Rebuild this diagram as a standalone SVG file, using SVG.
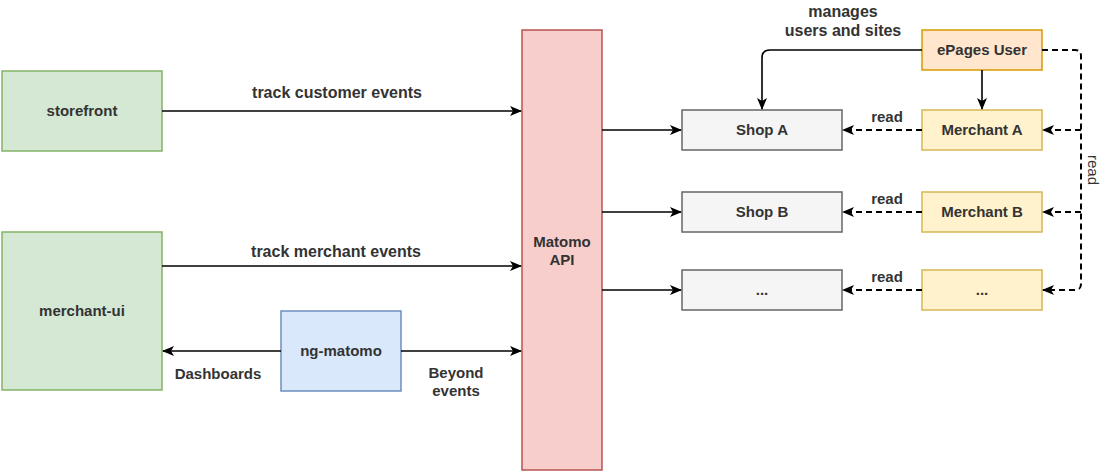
<svg xmlns="http://www.w3.org/2000/svg" width="1107" height="472" viewBox="0 0 1107 472">
<defs>
<style>
text{font-family:"Liberation Sans",Arial,Helvetica,sans-serif;font-weight:bold;font-size:15px;fill:#333333;text-anchor:middle}
.big{font-size:16px}
.thin{font-weight:normal}
.e{fill:none;stroke:#000;stroke-width:1.6}
.d{stroke-dasharray:6 4;stroke-width:2}
.n{stroke-width:1.5}
</style>
<marker id="ah" viewBox="0 0 12 10" refX="11" refY="5" markerWidth="12" markerHeight="10" markerUnits="userSpaceOnUse" orient="auto">
<path d="M0,0 L12,5 L0,10 L3,5 z" fill="#000"/>
</marker>
</defs>
<rect width="1107" height="472" fill="#fff"/>
<g id="storefront"><rect class="n" x="2" y="71" width="160" height="80" fill="#d5e8d4" stroke="#82b366"/><text x="82" y="116">storefront</text></g>
<g id="merchant-ui"><rect class="n" x="2" y="232" width="160" height="158" fill="#d5e8d4" stroke="#82b366"/><text x="82" y="316">merchant-ui</text></g>
<g id="ng-matomo"><rect class="n" x="281" y="311" width="120" height="80" fill="#dae8fc" stroke="#6c8ebf"/><text x="341" y="356">ng-matomo</text></g>
<g id="matomo-api"><rect class="n" x="522" y="30" width="80" height="440" fill="#f8cecc" stroke="#b85450"/><text x="562" y="247">Matomo</text><text x="562" y="265">API</text></g>
<g id="shop-a"><rect class="n" x="682" y="110" width="160" height="40" fill="#f5f5f5" stroke="#666666"/><text x="762" y="135">Shop A</text></g>
<g id="shop-b"><rect class="n" x="682" y="192" width="160" height="40" fill="#f5f5f5" stroke="#666666"/><text x="762" y="217">Shop B</text></g>
<g id="shop-n"><rect class="n" x="682" y="270" width="160" height="40" fill="#f5f5f5" stroke="#666666"/><text x="762" y="295">...</text></g>
<g id="epages-user"><rect class="n" x="922" y="30" width="120" height="40" fill="#ffe6cc" stroke="#d79b00"/><text x="982" y="55">ePages User</text></g>
<g id="merchant-a"><rect class="n" x="922" y="110" width="120" height="40" fill="#fff2cc" stroke="#d6b656"/><text x="982" y="135">Merchant A</text></g>
<g id="merchant-b"><rect class="n" x="922" y="192" width="120" height="40" fill="#fff2cc" stroke="#d6b656"/><text x="982" y="217">Merchant B</text></g>
<g id="merchant-n"><rect class="n" x="922" y="270" width="120" height="40" fill="#fff2cc" stroke="#d6b656"/><text x="982" y="295">...</text></g>
<g id="connectors">
<path class="e" d="M162,111 H521" marker-end="url(#ah)"/>
<path class="e" d="M162,266 H521" marker-end="url(#ah)"/>
<path class="e" d="M401,351 H521" marker-end="url(#ah)"/>
<path class="e" d="M281,351 H163" marker-end="url(#ah)"/>
<path class="e" d="M602,130 H681" marker-end="url(#ah)"/>
<path class="e" d="M602,212 H681" marker-end="url(#ah)"/>
<path class="e" d="M602,290 H681" marker-end="url(#ah)"/>
<path class="e" d="M922,50 H770 Q762,50 762,58 V109" marker-end="url(#ah)"/>
<path class="e" d="M982,70 V109" marker-end="url(#ah)"/>
<path class="e d" d="M922,130 H843" marker-end="url(#ah)"/>
<path class="e d" d="M922,212 H843" marker-end="url(#ah)"/>
<path class="e d" d="M922,290 H843" marker-end="url(#ah)"/>
<path class="e d" d="M1042,50 H1075 Q1081,50 1081,56 V284 Q1081,290 1075,290 H1043" marker-end="url(#ah)"/>
<path class="e d" d="M1081,130 H1043" marker-end="url(#ah)"/>
<path class="e d" d="M1081,212 H1043" marker-end="url(#ah)"/>
<text class="big" x="337" y="98">track customer events</text>
<text class="big" x="336" y="257">track merchant events</text>
<text x="218" y="379">Dashboards</text>
<text x="456" y="378">Beyond</text>
<text x="456" y="396">events</text>
<text class="big" x="843" y="17">manages</text>
<text class="big" x="843" y="36">users and sites</text>
<text x="887" y="122">read</text>
<text x="887" y="204">read</text>
<text x="887" y="282">read</text>
<text class="thin" transform="translate(1088,170) rotate(90)">read</text>
</g>
</svg>
